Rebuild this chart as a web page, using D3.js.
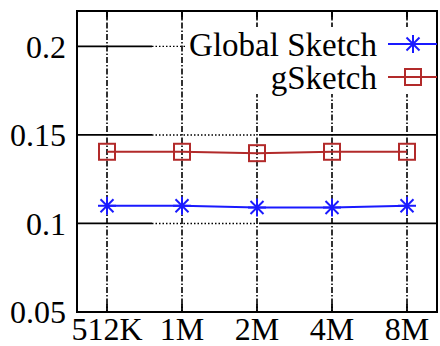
<!DOCTYPE html>
<html>
<head>
<meta charset="utf-8">
<script src="https://cdn.jsdelivr.net/npm/d3@7"></script>
<style>
  html, body { margin: 0; padding: 0; background: #fff; }
  svg { display: block; }
  text { font-family: "Liberation Serif", "Times New Roman", serif; fill: #000; }
</style>
</head>
<body>
<svg id="chart" width="440" height="346"></svg>
<script>
// Memory budget on the x axis, error on the y axis
const categories = ["512K", "1M", "2M", "4M", "8M"];
const globalSketch = [0.110, 0.110, 0.109, 0.109, 0.110];
const gSketch = [0.1405, 0.1405, 0.1397, 0.1405, 0.1405];
const yTicks = [0.05, 0.1, 0.15, 0.2];
const yTickLabels = ["0.05", "0.1", "0.15", "0.2"];
const seriesNames = ["Global Sketch", "gSketch"];

const svg = d3.select("#chart");
const plotL = 77, plotR = 437, plotT = 11, plotB = 312;

const x = d3.scaleLinear().domain([-0.4, 4.4]).range([plotL, plotR]);
const y = d3.scaleLinear().domain([0.05, 0.22]).range([plotB, plotT]);

const grid = svg.append("g");

// vertical dash-dot grid lines at each category
categories.forEach((c, i) => {
  grid.append("line")
    .attr("x1", x(i)).attr("x2", x(i))
    .attr("y1", plotT).attr("y2", plotB)
    .attr("stroke", "#000").attr("stroke-width", 1.6)
    .attr("stroke-dasharray", "6,2,1.5,2");
});

// horizontal grid lines: solid, dotted across the middle, solid again
yTicks.slice(1).forEach(v => {
  const a = x(0.6), b = x(2);
  grid.append("line")
    .attr("x1", plotL).attr("x2", a).attr("y1", y(v)).attr("y2", y(v))
    .attr("stroke", "#000").attr("stroke-width", 1.8);
  grid.append("line")
    .attr("x1", a).attr("x2", b).attr("y1", y(v)).attr("y2", y(v))
    .attr("stroke", "#000").attr("stroke-width", 1.4)
    .attr("stroke-dasharray", "1.5,2");
  grid.append("line")
    .attr("x1", b + 2).attr("x2", plotR).attr("y1", y(v)).attr("y2", y(v))
    .attr("stroke", "#000").attr("stroke-width", 1.8);
});

// inward tick marks on the bottom and top axes
categories.forEach((c, i) => {
  svg.append("line").attr("x1", x(i)).attr("x2", x(i))
    .attr("y1", plotB).attr("y2", plotB - 8)
    .attr("stroke", "#000").attr("stroke-width", 1.8);
  svg.append("line").attr("x1", x(i)).attr("x2", x(i))
    .attr("y1", plotT).attr("y2", plotT + 8)
    .attr("stroke", "#000").attr("stroke-width", 1.8);
});

// opaque legend background
const legendBox = { x0: 187, y0: 27, x1: 440, y1: 94 };
svg.append("rect")
  .attr("x", legendBox.x0).attr("y", legendBox.y0)
  .attr("width", legendBox.x1 - legendBox.x0).attr("height", legendBox.y1 - legendBox.y0)
  .attr("fill", "#fff");

// frame
svg.append("rect")
  .attr("x", plotL).attr("y", plotT)
  .attr("width", plotR - plotL).attr("height", plotB - plotT)
  .attr("fill", "none").attr("stroke", "#000").attr("stroke-width", 2);

// axis labels
svg.append("g").selectAll("text").data(yTicks).join("text")
  .attr("x", 66).attr("y", d => y(d)).attr("dy", "0.35em")
  .attr("text-anchor", "end").attr("font-size", 32)
  .text((d, i) => yTickLabels[i]);

svg.append("g").selectAll("text").data(categories).join("text")
  .attr("x", (d, i) => x(i)).attr("y", 340)
  .attr("text-anchor", "middle").attr("font-size", 32)
  .text(d => d);

// markers
function star(g, cx, cy, color) {
  const r = 9, d = 6.5;
  const p = g.append("g").attr("stroke", color).attr("stroke-width", 2).attr("fill", "none");
  p.append("line").attr("x1", cx - r).attr("x2", cx + r).attr("y1", cy).attr("y2", cy);
  p.append("line").attr("x1", cx).attr("x2", cx).attr("y1", cy - r).attr("y2", cy + r);
  p.append("line").attr("x1", cx - d).attr("x2", cx + d).attr("y1", cy - d).attr("y2", cy + d);
  p.append("line").attr("x1", cx - d).attr("x2", cx + d).attr("y1", cy + d).attr("y2", cy - d);
}
function square(g, cx, cy, color) {
  g.append("rect").attr("x", cx - 8).attr("y", cy - 8).attr("width", 16).attr("height", 16)
    .attr("fill", "none").attr("stroke", color).attr("stroke-width", 2);
}

const blue = "#1a1aff", red = "#b22a2a";
const line = d3.line().x((d, i) => x(i)).y(d => y(d));

const s = svg.append("g");
s.append("path").datum(gSketch).attr("d", line)
  .attr("fill", "none").attr("stroke", red).attr("stroke-width", 2);
gSketch.forEach((v, i) => square(s, x(i), y(v), red));
s.append("path").datum(globalSketch).attr("d", line)
  .attr("fill", "none").attr("stroke", blue).attr("stroke-width", 2);
globalSketch.forEach((v, i) => star(s, x(i), y(v), blue));

// legend
const lg = svg.append("g");
const legendRows = [
  { name: seriesNames[0], yPos: 44, color: blue, mark: star },
  { name: seriesNames[1], yPos: 77, color: red, mark: square }
];
legendRows.forEach(r => {
  lg.append("text").attr("x", 377).attr("y", r.yPos).attr("dy", "0.35em")
    .attr("text-anchor", "end").attr("font-size", 33).text(r.name);
  lg.append("line").attr("x1", 388).attr("x2", plotR).attr("y1", r.yPos).attr("y2", r.yPos)
    .attr("stroke", r.color).attr("stroke-width", 2);
  r.mark(lg, 413, r.yPos, r.color);
});
</script>
</body>
</html>
